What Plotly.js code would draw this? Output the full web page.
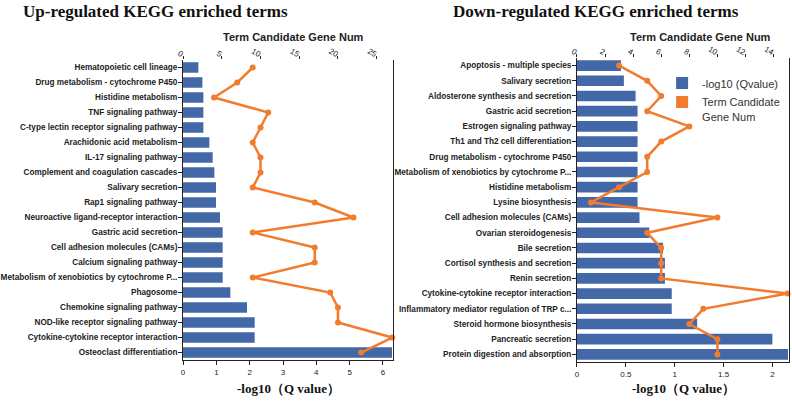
<!DOCTYPE html>
<html>
<head>
<meta charset="utf-8">
<script src="https://cdn.plot.ly/plotly-3.0.1.min.js"></script>
<style>
  body { margin: 0; background: #fff; }
  #chart { width: 792px; height: 401px; }
</style>
</head>
<body>
<div id="chart"></div>
<script>
// up-regulated terms, listed top to bottom
const upTerms = [
    'Hematopoietic cell lineage',
    'Drug metabolism - cytochrome P450',
    'Histidine metabolism',
    'TNF signaling pathway',
    'C-type lectin receptor signaling pathway',
    'Arachidonic acid metabolism',
    'IL-17 signaling pathway',
    'Complement and coagulation cascades',
    'Salivary secretion',
    'Rap1 signaling pathway',
    'Neuroactive ligand-receptor interaction',
    'Gastric acid secretion',
    'Cell adhesion molecules (CAMs)',
    'Calcium signaling pathway',
    'Metabolism of xenobiotics by cytochrome P...',
    'Phagosome',
    'Chemokine signaling pathway',
    'NOD-like receptor signaling pathway',
    'Cytokine-cytokine receptor interaction',
    'Osteoclast differentiation',
];
const upQ = [0.46, 0.58, 0.61, 0.61, 0.61, 0.79, 0.89, 0.94, 0.99, 0.99,
             1.11, 1.19, 1.19, 1.19, 1.19, 1.42, 1.92, 2.15, 2.15, 6.27];
const upNum = [9, 7, 4, 11, 10, 9, 10, 10, 9, 17, 22, 9, 17, 17, 9, 19, 20, 20, 27, 23];

// down-regulated terms, listed top to bottom
const downTerms = [
    'Apoptosis - multiple species',
    'Salivary secretion',
    'Aldosterone synthesis and secretion',
    'Gastric acid secretion',
    'Estrogen signaling pathway',
    'Th1 and Th2 cell differentiation',
    'Drug metabolism - cytochrome P450',
    'Metabolism of xenobiotics by cytochrome P...',
    'Histidine metabolism',
    'Lysine biosynthesis',
    'Cell adhesion molecules (CAMs)',
    'Ovarian steroidogenesis',
    'Bile secretion',
    'Cortisol synthesis and secretion',
    'Renin secretion',
    'Cytokine-cytokine receptor interaction',
    'Inflammatory mediator regulation of TRP c...',
    'Steroid hormone biosynthesis',
    'Pancreatic secretion',
    'Protein digestion and absorption',
];
const downQ = [0.45, 0.48, 0.60, 0.62, 0.62, 0.62, 0.62, 0.62, 0.62, 0.62,
               0.64, 0.74, 0.88, 0.90, 0.90, 0.97, 0.97, 1.23, 2.00, 2.16];
const downNum = [3, 5, 6, 5, 8, 6, 5, 5, 3, 1, 10, 5, 6, 6, 6, 15, 9, 8, 10, 10];

const barColor = '#4268a7';
const lineColor = '#f27b2e';
const sans = 'Arial, Liberation Sans, sans-serif';
const serif = 'Times New Roman, Liberation Serif, serif';

function barTrace(terms, q, xa, ya, showleg) {
    return {
        type: 'bar',
        orientation: 'h',
        x: q,
        y: terms,
        xaxis: xa,
        yaxis: ya,
        width: 0.7,
        marker: { color: barColor },
        name: '-log10 (Qvalue)',
        showlegend: showleg,
    };
}

function lineTrace(terms, num, xa, ya) {
    return {
        type: 'scatter',
        mode: 'lines+markers',
        x: num,
        y: terms,
        xaxis: xa,
        yaxis: ya,
        line: { color: lineColor, width: 2.5 },
        marker: { color: lineColor, size: 6 },
        cliponaxis: false,
        showlegend: false,
    };
}

// legend swatch for the line series (square like the original)
const legendLine = {
    type: 'bar',
    orientation: 'h',
    x: [null],
    y: [null],
    xaxis: 'x3',
    yaxis: 'y2',
    marker: { color: lineColor },
    name: 'Term Candidate<br>Gene Num',
    showlegend: true,
};

const bottomAxis = (domain, range, dtick, anchor) => ({
    domain: domain,
    range: range,
    dtick: dtick,
    anchor: anchor,
    showgrid: false,
    zeroline: false,
    showline: true,
    linecolor: '#222',
    linewidth: 1,
    ticks: 'outside',
    ticklen: 4,
    tickcolor: '#222',
    tickfont: { family: sans, size: 8, color: '#222' },
});

const topAxis = (overlay, range, dtick, anchor) => ({
    overlaying: overlay,
    side: 'top',
    anchor: anchor,
    range: range,
    dtick: dtick,
    showgrid: false,
    zeroline: false,
    showline: false,
    ticks: 'outside',
    ticklen: 3,
    tickcolor: '#222',
    tickangle: 30,
    ticklabelstandoff: -5,
    tickfont: { family: sans, size: 8, color: '#222' },
});

const catAxis = (domain, n, anchor) => ({
    domain: domain,
    anchor: anchor,
    range: [n - 0.5, -0.5],
    showgrid: false,
    showline: true,
    mirror: true,
    linecolor: '#222',
    linewidth: 1,
    ticks: 'outside',
    ticklen: 4,
    tickcolor: '#222',
    ticklabelstandoff: -1,
    tickfont: { family: sans, size: 8.2, color: '#222', weight: 'bold' },
});

const annot = (text, x, y, font) => ({
    text: text, x: x, y: y, xref: 'paper', yref: 'paper',
    xanchor: 'center', yanchor: 'middle', showarrow: false, font: font,
});

const titleFont = { family: serif, size: 17, color: '#111', weight: 'bold' };
const topFont = { family: sans, size: 11, color: '#222', weight: 'bold' };
const axFont = { family: serif, size: 13, color: '#111', weight: 'bold' };

const layout = {
    width: 792,
    height: 401,
    margin: { l: 0, r: 0, t: 0, b: 0 },
    paper_bgcolor: '#fff',
    plot_bgcolor: 'rgba(0,0,0,0)',
    barmode: 'overlay',
    xaxis: bottomAxis([0.2311, 0.4962], [0, 6.3], 1, 'y'),
    xaxis2: topAxis('x', [0, 27.1], 5, 'y'),
    yaxis: catAxis([0.1022, 0.8504], upTerms.length, 'x'),
    xaxis3: bottomAxis([0.7285, 0.9962], [0, 2.17], 0.5, 'y2'),
    xaxis4: topAxis('x3', [0, 15.1], 2, 'y2'),
    yaxis2: catAxis([0.0973, 0.8554], downTerms.length, 'x3'),
    legend: {
        x: 0.836,
        y: 0.827,
        xanchor: 'left',
        yanchor: 'top',
        valign: 'top',
        bgcolor: 'rgba(0,0,0,0)',
        font: { family: sans, size: 11, color: '#333' },
        tracegroupgap: 0,
    },
    annotations: [
        annot('Up-regulated KEGG enriched terms', 155 / 792, 0.972, titleFont),
        annot('Down-regulated KEGG enriched terms', 596 / 792, 0.972, titleFont),
        annot('Term Candidate Gene Num', 293 / 792, 0.908, topFont),
        annot('Term Candidate Gene Num', 700 / 792, 0.908, topFont),
        annot('-log10（Q value）', 288 / 792, 0.03, axFont),
        annot('-log10（Q value）', 683 / 792, 0.03, axFont),
    ],
};

const data = [
    barTrace(upTerms, upQ, 'x', 'y', false),
    lineTrace(upTerms, upNum, 'x2', 'y'),
    barTrace(downTerms, downQ, 'x3', 'y2', true),
    legendLine,
    lineTrace(downTerms, downNum, 'x4', 'y2'),
];

Plotly.newPlot('chart', data, layout, { staticPlot: true });
</script>
</body>
</html>
